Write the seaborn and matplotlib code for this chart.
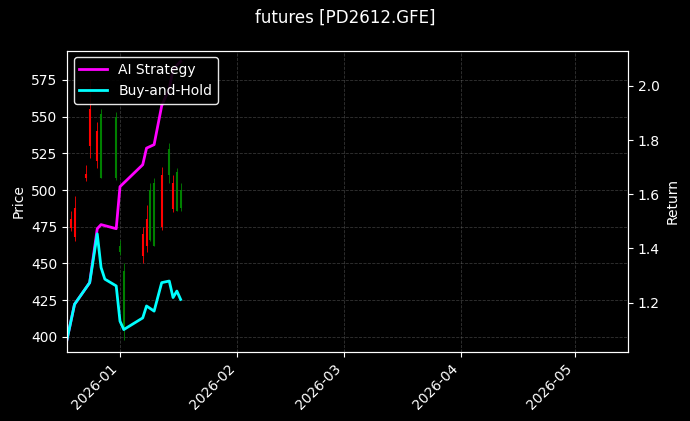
import pandas as pd
import numpy as np
import matplotlib.pyplot as plt
import matplotlib.dates as mdates
import seaborn as sns

# candles
candle_dates = ['2025-12-18', '2025-12-19', '2025-12-20', '2025-12-23', '2025-12-24',
                '2025-12-26', '2025-12-27', '2025-12-31', '2026-01-01', '2026-01-02',
                '2026-01-07', '2026-01-08', '2026-01-09', '2026-01-10', '2026-01-12',
                '2026-01-14', '2026-01-15', '2026-01-16', '2026-01-17']
opens = [455, 480, 488, 511, 555, 540, 508, 508, 458, 405, 470, 480, 466, 462, 510, 510, 505, 486, 488]
closes = [443, 474, 468, 508, 530, 520, 552, 550, 462, 445, 455, 462, 500, 505, 475, 528, 487, 512, 500]
highs = [457, 486, 496, 517, 575, 546, 555, 553, 466, 450, 475, 490, 505, 508, 516, 532, 510, 515, 505]
lows = [441, 472, 465, 506, 522, 515, 508, 507, 456, 398, 450, 458, 465, 462, 473, 505, 485, 486, 486]

# strategy curves
bh_dates = ['2025-12-18', '2025-12-20', '2025-12-24', '2025-12-26', '2025-12-27', '2025-12-28',
            '2025-12-31', '2026-01-01', '2026-01-02', '2026-01-07', '2026-01-08', '2026-01-10',
            '2026-01-12', '2026-01-14', '2026-01-15', '2026-01-16', '2026-01-17']
bh_returns = [1.063, 1.194, 1.274, 1.454, 1.330, 1.287, 1.262, 1.132, 1.101, 1.144, 1.188,
              1.169, 1.274, 1.280, 1.219, 1.243, 1.212]
ai_dates = ['2025-12-18', '2025-12-20', '2025-12-24', '2025-12-26', '2025-12-27', '2025-12-31',
            '2026-01-01', '2026-01-07', '2026-01-08', '2026-01-10', '2026-01-12', '2026-01-14',
            '2026-01-15', '2026-01-17']
ai_returns = [1.063, 1.194, 1.274, 1.473, 1.488, 1.473, 1.628, 1.709, 1.770, 1.783, 1.926,
              1.99, 2.06, 2.09]

plt.style.use('dark_background')
plt.rcParams['font.family'] = ['DejaVu Sans']
plt.rcParams['font.size'] = 10

fig, ax = plt.subplots(figsize=(6.9, 4.21), dpi=100)
cd = pd.to_datetime(candle_dates)
colors = ['green' if c >= o else 'red' for o, c in zip(opens, closes)]
ax.vlines(cd, lows, highs, colors=colors, linewidth=0.6)
ax.vlines(cd, opens, closes, colors=colors, linewidth=1.5)
ax.set_ylim(390, 595)
ax.set_ylabel('Price')
ax.grid(True, linestyle='--', color='gray', alpha=0.4, linewidth=0.6)

ax2 = ax.twinx()
sns.lineplot(x=pd.to_datetime(ai_dates), y=ai_returns, ax=ax2, color='magenta', linewidth=2, label='AI Strategy')
sns.lineplot(x=pd.to_datetime(bh_dates), y=bh_returns, ax=ax2, color='cyan', linewidth=2, label='Buy-and-Hold')
ax2.set_ylim(1.02, 2.13)
ax2.set_ylabel('Return')
ax2.legend(loc='upper left', facecolor='black', edgecolor='white', framealpha=0.9)

ax.set_xlim(pd.Timestamp('2025-12-18'), pd.Timestamp('2026-05-15'))
ax.xaxis.set_major_locator(mdates.MonthLocator())
ax.xaxis.set_major_formatter(mdates.DateFormatter('%Y-%m'))
plt.setp(ax.get_xticklabels(), rotation=45, ha='right')

fig.suptitle('futures [PD2612.GFE]')
fig.subplots_adjust(left=0.097, right=0.91, top=0.88, bottom=0.165)
fig.savefig('out.png')
